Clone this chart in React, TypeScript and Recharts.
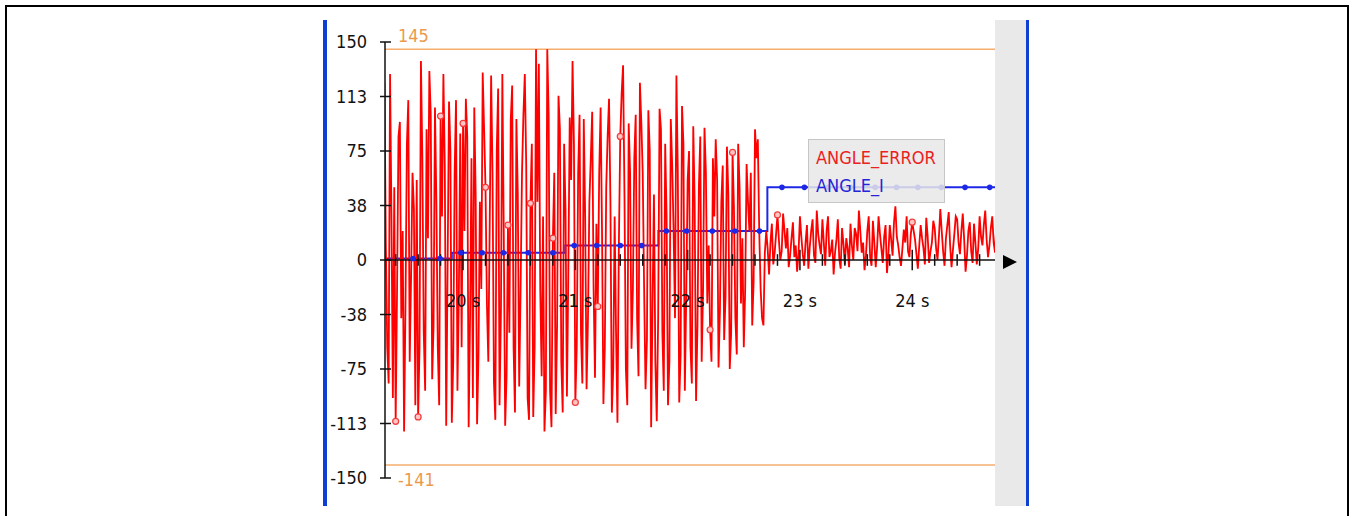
import { Line, LineChart, ReferenceDot, ReferenceLine, XAxis, YAxis } from "recharts";

// ANGLE_ERROR samples, one every 12.5 ms starting at 19.3 s
const ERR_T0 = 19.3;
const ERR_DT = 0.0125;
const ANGLE_ERROR = [
	122, 10, -60, -85, 128, 30, -95, 50, -111, -20, 85, 95, -40, 20, -118, -30, 80, 110, -70, -10,
	60, 35, -100, 55, -108, -60, 137, 70, -50, -90, 90, 15, 130, 100, -82, -45, 105, 40, -60, -100,
	99, 30, 128, 65, -114, -5, 109, 75, -112, -70, 60, 110, -90, -25, 87, -60, 94, 20, 111, 85,
	-115, -40, 70, -95, 105, 45, -113, -65, 40, -20, 129, 90, 50, -30, -70, 25, 127, 60, -84, -110,
	75, 118, -100, -35, 128, 20, -114, -80, 24, -50, 97, 120, -60, -105, 97, 45, -87, -20, 60, 100,
	128, 65, -95, -110, 39, 80, -108, -60, 145, 40, 135, -20, -80, 30, -118, -90, 145, 100, -90, -115,
	15, 60, -106, -45, 113, 90, -70, -105, 80, 35, -94, -10, 98, 55, 137, 80, -98, -60, 60, 100,
	-50, -85, 97, 30, -89, -40, 40, 70, 102, -20, -81, 25, -32, 60, 105, 20, -99, -60, 50, 85,
	111, 40, -105, -75, 30, -50, -112, 10, 85, 115, 134, 45, -75, -100, 94, 60, -61, -20, 70, 100,
	-40, -80, 122, 95, 60, -20, -89, -55, 103, 75, -115, -30, 45, -70, -111, -40, 104, 90, -50, -90,
	80, 30, -100, -70, 97, 65, 20, -40, 127, 60, -98, -65, 106, 80, -90, -25, 55, 75, -60, -85,
	92, 40, -97, -45, 50, 85, -70, -20, 91, 60, -30, 10, -48, -70, 70, 30, 83, 55, -74, -35,
	40, 65, -55, -25, 78, 45, -75, -50, 74, 35, -40, -65, 80, 50, -30, 15, -60, -20, 66, 40,
	20, 60, -45, -15, 90, 70, 83, 20, -20, -40, -45, 5,
	20, 8, -10, 12, 25, -3, 5, 18, 31, 14, 0, 6, 32, 20, 8, 22, -5, 3, 15, 26,
	2, 10, -8, 5, 30, 16, 4, -4, 12, 24, -6, 9, 20, 28, 3, -2, 34, 18, 10, 4,
	28, 12, -4, 20, 30, 2, 6, 14, -10, 5, 14, 28, 1, -6, 22, 11, -3, 15, 8, -5,
	25, 10, 0, 22, 18, 6, 34, 20, 5, 12, -7, 3, 20, 30, 2, -4, 27, 12, -5, 9,
	30, 18, 8, -2, 16, 24, -9, 4, 24, 14, 3, 26, 37, 16, 10, 2, -4, 8, 21, 12,
	30, 6, 2, 18, 26, 20, 14, 4, -6, 10, 24, 15, 8, -3, 29, 16, -2, 6, 12, 27,
	22, 8, 0, 16, 35, 20, 6, -4, 15, 24, 33, 10, -5, 7, 18, 30, 28, 12, 4, 20,
	32, 14, -8, 3, 20, 26, 6, -2, 25, 12, -3, 8, 30, 16, 10, 24, 34, 14, 2, 10,
	22, 30, 12, 5, 28,
];
// samples that show a marker circle
const ERROR_MARKS = [8, 24, 40, 56, 72, 88, 104, 120, 136, 152, 168, 232, 248, 280, 376];

// ANGLE_I: slow integral, drawn as steps
const ANGLE_I_T = [
	19.3, 19.555, 19.795, 19.9, 19.98, 20.17, 20.36, 20.58, 20.8, 20.91,
	20.99, 21.19, 21.4, 21.59, 21.74, 21.81, 21.99, 22.22, 22.42, 22.64,
	22.71, 22.84, 23.04, 23.25, 23.45, 23.67, 23.86, 24.05, 24.26, 24.47,
	24.69, 24.74,
];
const ANGLE_I = [
	1, 1, 1, 5, 5, 5, 5, 5, 5, 10,
	10, 10, 10, 10, 20, 20, 20, 20, 20, 20,
	50, 50, 50, 50, 50, 50, 50, 50, 50, 50,
	50, 50,
];
const ANGLE_I_DOTS = [1, 2, 4, 5, 6, 7, 8, 10, 11, 12, 13, 15, 16, 17, 18, 19, 21, 22, 23, 24, 25, 26, 27, 28, 29, 30];

const Y_TICKS = [-150, -112.5, -75, -37.5, 0, 37.5, 75, 112.5, 150];
const Y_TICK_LABELS = ["-150", "-113", "-75", "-38", "0", "38", "75", "113", "150"];
const X_MAJOR = [20, 21, 22, 23, 24];
const X_MAJOR_LABELS = ["20 s", "21 s", "22 s", "23 s", "24 s"];
const X_MINOR = [
	19.4, 19.6, 19.8, 20.2, 20.4, 20.6, 20.8, 21.2, 21.4, 21.6, 21.8,
	22.2, 22.4, 22.6, 22.8, 23.2, 23.4, 23.6, 23.8, 24.2, 24.4, 24.6,
];
const LIMIT_HIGH = 145;
const LIMIT_LOW = -141;

const FONT = "'Liberation Sans Narrow', 'DejaVu Sans Condensed', 'Roboto Condensed', sans-serif";
const ORANGE_LINE = "#f5ae6e";
const ORANGE_TEXT = "#eb9a4c";

const errData = ANGLE_ERROR.map((v, i) => ({
	t: Math.round((ERR_T0 + i * ERR_DT) * 10000) / 10000,
	v,
	mark: ERROR_MARKS.includes(i),
}));
const iData = ANGLE_I.map((v, i) => ({ t: ANGLE_I_T[i], v, dot: ANGLE_I_DOTS.includes(i) }));

function YTick(props: any) {
	const { x, y, payload } = props;
	const idx = Y_TICKS.indexOf(payload.value);
	return (
		<g>
			<line x1={x - 5} x2={x + 6} y1={y} y2={y} stroke="#111" strokeWidth={1.5} />
			<text x={x - 18} y={y} dy="0.36em" textAnchor="end" fontSize={18} fontFamily={FONT} fill="#111">
				{Y_TICK_LABELS[idx]}
			</text>
		</g>
	);
}

function ErrDot(props: any) {
	const { cx, cy, payload, index } = props;
	if (!payload?.mark) return <g key={`e-${index}`} />;
	return <circle key={`e-${index}`} cx={cx} cy={cy} r={3} stroke="#f23c3c" strokeWidth={1.2} fill="#ffc4c4" />;
}

function IDot(props: any) {
	const { cx, cy, payload, index } = props;
	if (!payload?.dot) return <g key={`i-${index}`} />;
	return <circle key={`i-${index}`} cx={cx} cy={cy} r={2.8} fill="#1c28e6" />;
}

function limitLabel(text: string, above: boolean) {
	return (p: any) => {
		const vb = p.viewBox || {};
		return (
			<text
				x={(vb.x ?? 0) + 13}
				y={above ? (vb.y ?? 0) - 7 : (vb.y ?? 0) + 21}
				fontSize={18}
				fontFamily={FONT}
				fill={ORANGE_TEXT}
			>
				{text}
			</text>
		);
	};
}

export default function App() {
	return (
		<div style={{ position: "absolute", left: 0, top: 0, width: 1350, height: 516, background: "#fff", overflow: "hidden" }}>
			<div
				style={{
					position: "absolute",
					left: 5,
					top: 5,
					width: 1344,
					height: 600,
					border: "2px solid #000",
					boxSizing: "border-box",
				}}
			/>
			<div style={{ position: "absolute", left: 323, top: 20, width: 4, height: 486, background: "#0d40d2" }} />
			<div style={{ position: "absolute", left: 995, top: 20, width: 31, height: 486, background: "#e9e9e9" }} />
			<div style={{ position: "absolute", left: 1026, top: 20, width: 3, height: 486, background: "#0d40d2" }} />
			<svg style={{ position: "absolute", left: 1002, top: 254 }} width={16} height={16}>
				<polygon points="1,1 15,8 1,15" fill="#000" />
			</svg>
			<div style={{ position: "absolute", left: 0, top: 0 }}>
				<LineChart width={1350} height={516} margin={{ top: 42, right: 355, bottom: 38, left: 325 }}>
					<XAxis type="number" dataKey="t" domain={[19.305, 24.737]} allowDataOverflow hide />
					<YAxis
						type="number"
						domain={[-150, 150]}
						ticks={Y_TICKS}
						interval={0}
						width={60}
						tickSize={0}
						tickMargin={0}
						tickLine={false}
						axisLine={{ stroke: "#111", strokeWidth: 1.5 }}
						tick={<YTick />}
					/>
					<ReferenceLine y={LIMIT_HIGH} stroke={ORANGE_LINE} strokeWidth={1.5} label={limitLabel(String(LIMIT_HIGH), true)} />
					<ReferenceLine y={LIMIT_LOW} stroke={ORANGE_LINE} strokeWidth={1.5} label={limitLabel(String(LIMIT_LOW), false)} />
					<Line
						data={iData}
						dataKey="v"
						type="stepAfter"
						stroke="#1c28e6"
						strokeWidth={2}
						dot={<IDot />}
						activeDot={false}
						isAnimationActive={false}
					/>
					<Line
						data={errData}
						dataKey="v"
						type="linear"
						stroke="#ff0000"
						strokeWidth={1.8}
						dot={<ErrDot />}
						activeDot={false}
						isAnimationActive={false}
					/>
					<ReferenceLine y={0} stroke="#111" strokeWidth={1.5} />
					{X_MINOR.map((t) => (
						<ReferenceLine
							key={`mn-${t}`}
							segment={[
								{ x: t, y: -4 },
								{ x: t, y: 4 },
							]}
							stroke="#111"
							strokeWidth={1.5}
						/>
					))}
					{X_MAJOR.map((t) => (
						<ReferenceLine
							key={`mj-${t}`}
							segment={[
								{ x: t, y: -7 },
								{ x: t, y: 7 },
							]}
							stroke="#111"
							strokeWidth={1.5}
						/>
					))}
					{X_MAJOR.map((t, i) => (
						<ReferenceDot
							key={`lb-${t}`}
							x={t}
							y={-28}
							r={0}
							fill="none"
							stroke="none"
							label={{ value: X_MAJOR_LABELS[i], position: "center", fontSize: 18, fontFamily: FONT, fill: "#111" }}
						/>
					))}
				</LineChart>
			</div>
			<div
				style={{
					position: "absolute",
					left: 808,
					top: 139,
					width: 137,
					height: 64,
					boxSizing: "border-box",
					background: "rgba(232,232,232,0.85)",
					border: "1px solid #c6c6c6",
					fontFamily: "'DejaVu Sans Condensed', sans-serif",
					fontSize: 18,
					lineHeight: "28px",
					padding: "4px 0 0 7px",
				}}
			>
				<div style={{ color: "#ec2020" }}>ANGLE_ERROR</div>
				<div style={{ color: "#2424d8" }}>ANGLE_I</div>
			</div>
		</div>
	);
}
